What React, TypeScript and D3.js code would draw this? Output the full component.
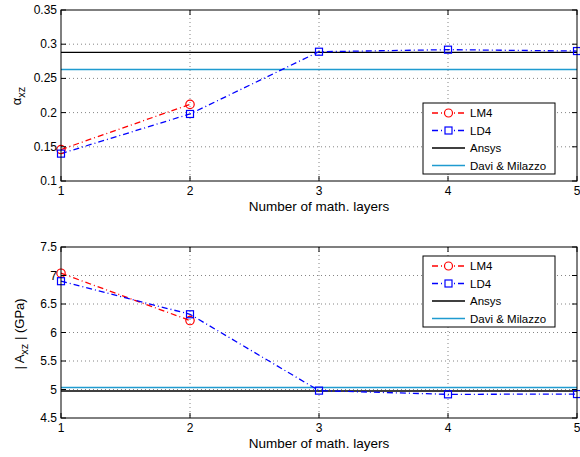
import React from "react";
import * as d3 from "d3";

const layers = [1, 2, 3, 4, 5];
const lm4Layers = [1, 2];

const alphaLM4 = [0.146, 0.212];
const alphaLD4 = [0.14, 0.198, 0.289, 0.292, 0.29];
const alphaAnsys = 0.288;
const alphaDavi = 0.263;
const alphaTicks = [0.1, 0.15, 0.2, 0.25, 0.3, 0.35];

const aLM4 = [7.04, 6.21];
const aLD4 = [6.9, 6.32, 4.98, 4.915, 4.92];
const aAnsys = 4.975;
const aDavi = 5.035;
const aTicks = [4.5, 5, 5.5, 6, 6.5, 7, 7.5];

const legendLabels = ["LM4", "LD4", "Ansys", "Davi & Milazzo"];

const FONT = "'Liberation Sans', Arial, Helvetica, sans-serif";
const RED = "#ff0000";
const BLUE = "#0000ff";
const CYAN = "#1f9bd0";
const DASHDOT = "6,3,1,3";

type PanelProps = {
  top: number;
  bottom: number;
  domain: [number, number];
  ticks: number[];
  fmt: (v: number) => string;
  lm4: number[];
  ld4: number[];
  ansys: number;
  davi: number;
  legendTop: number;
  ylabel: React.ReactNode;
  ylabelX: number;
  ylabelY: number;
};

const x = d3.scaleLinear().domain([1, 5]).range([61, 577]);

function Panel(p: PanelProps) {
  const y = d3.scaleLinear().domain(p.domain).range([p.bottom, p.top]);
  const line = d3
    .line<[number, number]>()
    .x((d) => x(d[0]))
    .y((d) => y(d[1]));
  const lmPts: [number, number][] = lm4Layers.map((l, i) => [l, p.lm4[i]]);
  const ldPts: [number, number][] = layers.map((l, i) => [l, p.ld4[i]]);
  const [x0, x1] = x.range();
  const lx = 423, lw = 132, lh = 71;
  const ly = p.legendTop;
  return (
    <g>
      {/* grid */}
      {layers.slice(1, -1).map((t) => (
        <line key={"gx" + t} x1={x(t)} x2={x(t)} y1={p.top} y2={p.bottom} stroke="#666" strokeWidth={0.8} strokeDasharray="1,3" />
      ))}
      {p.ticks.slice(1, -1).map((t) => (
        <line key={"gy" + t} x1={x0} x2={x1} y1={y(t)} y2={y(t)} stroke="#666" strokeWidth={0.8} strokeDasharray="1,3" />
      ))}
      {/* reference lines */}
      <line x1={x0} x2={x1} y1={y(p.ansys)} y2={y(p.ansys)} stroke="#000" strokeWidth={1.4} />
      <line x1={x0} x2={x1} y1={y(p.davi)} y2={y(p.davi)} stroke={CYAN} strokeWidth={1.4} />
      {/* series */}
      <path d={line(lmPts) || ""} fill="none" stroke={RED} strokeWidth={1.3} strokeDasharray={DASHDOT} />
      <path d={line(ldPts) || ""} fill="none" stroke={BLUE} strokeWidth={1.3} strokeDasharray={DASHDOT} />
      {lmPts.map((d, i) => (
        <circle key={"c" + i} cx={x(d[0])} cy={y(d[1])} r={4.2} fill="none" stroke={RED} strokeWidth={1.2} />
      ))}
      {ldPts.map((d, i) => (
        <rect key={"s" + i} x={x(d[0]) - 3.5} y={y(d[1]) - 3.5} width={7} height={7} fill="none" stroke={BLUE} strokeWidth={1.2} />
      ))}
      {/* frame */}
      <rect x={x0} y={p.top} width={x1 - x0} height={p.bottom - p.top} fill="none" stroke="#000" strokeWidth={1} />
      {/* ticks */}
      {layers.map((t) => (
        <g key={"tx" + t}>
          <line x1={x(t)} x2={x(t)} y1={p.bottom} y2={p.bottom - 5} stroke="#000" />
          <line x1={x(t)} x2={x(t)} y1={p.top} y2={p.top + 5} stroke="#000" />
          <text x={x(t)} y={p.bottom + 14} textAnchor="middle" fontSize={12} fontFamily={FONT} fill="#000">{t}</text>
        </g>
      ))}
      {p.ticks.map((t) => (
        <g key={"ty" + t}>
          <line x1={x0} x2={x0 + 5} y1={y(t)} y2={y(t)} stroke="#000" />
          <line x1={x1} x2={x1 - 5} y1={y(t)} y2={y(t)} stroke="#000" />
          <text x={x0 - 4} y={y(t) + 4} textAnchor="end" fontSize={12} fontFamily={FONT} fill="#000">{p.fmt(t)}</text>
        </g>
      ))}
      <text x={319} y={p.bottom + 30} textAnchor="middle" fontSize={13.5} fontFamily={FONT} fill="#000">Number of math. layers</text>
      <text transform={`translate(${p.ylabelX},${p.ylabelY}) rotate(-90)`} textAnchor="middle" fontSize={13} fontFamily={FONT} fill="#000">{p.ylabel}</text>
      {/* legend */}
      <rect x={lx} y={ly} width={lw} height={lh} fill="#fff" stroke="#000" strokeWidth={1} />
      {legendLabels.map((lab, i) => {
        const yy = ly + 10 + i * 17.5;
        const color = [RED, BLUE, "#000", CYAN][i];
        return (
          <g key={lab}>
            <line x1={lx + 9} x2={lx + 42} y1={yy} y2={yy} stroke={color} strokeWidth={1.3} strokeDasharray={i < 2 ? DASHDOT : undefined} />
            {i === 0 && <circle cx={lx + 25.5} cy={yy} r={4} fill="#fff" stroke={RED} strokeWidth={1.2} />}
            {i === 1 && <rect x={lx + 22} y={yy - 3.5} width={7} height={7} fill="#fff" stroke={BLUE} strokeWidth={1.2} />}
            <text x={lx + 47} y={yy + 4} fontSize={11.5} fontFamily={FONT} fill="#000">{lab}</text>
          </g>
        );
      })}
    </g>
  );
}

export default function App() {
  const fmtA = (v: number) => d3.format("~g")(v);
  return (
    <div style={{ position: "fixed", left: 0, top: 0 }}>
      <svg width={580} height={457} style={{ display: "block", background: "#fff" }}>
        <Panel
          top={10}
          bottom={181}
          domain={[0.1, 0.35]}
          ticks={alphaTicks}
          fmt={fmtA}
          lm4={alphaLM4}
          ld4={alphaLD4}
          ansys={alphaAnsys}
          davi={alphaDavi}
          legendTop={103}
          ylabel={<><tspan>α</tspan><tspan dy={4} fontSize={11}>xz</tspan></>}
          ylabelX={21}
          ylabelY={96}
        />
        <Panel
          top={247}
          bottom={418}
          domain={[4.5, 7.5]}
          ticks={aTicks}
          fmt={fmtA}
          lm4={aLM4}
          ld4={aLD4}
          ansys={aAnsys}
          davi={aDavi}
          legendTop={256}
          ylabel={<><tspan>| A</tspan><tspan dy={4} fontSize={11}>xz</tspan><tspan dy={-4}> | (GPa)</tspan></>}
          ylabelX={24}
          ylabelY={334}
        />
      </svg>
    </div>
  );
}
